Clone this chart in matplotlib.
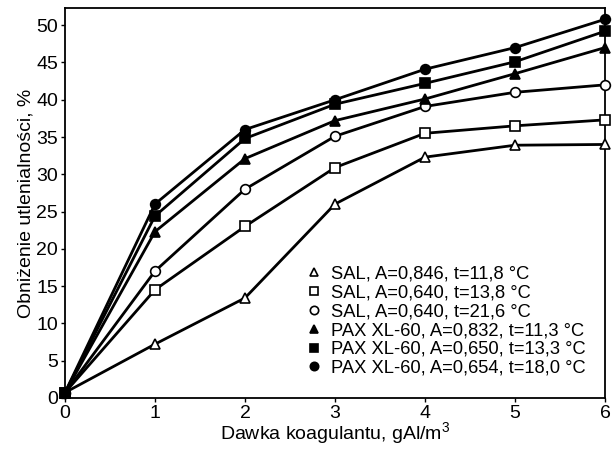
import matplotlib
matplotlib.use("Agg")
import matplotlib.pyplot as plt

plt.rcParams["font.family"] = ["Liberation Sans", "DejaVu Sans"]
plt.rcParams["mathtext.fontset"] = "custom"
plt.rcParams["mathtext.rm"] = "Liberation Sans"

# Dose of coagulant, gAl/m3
dose = [0, 1, 2, 3, 4, 5, 6]

# Reduction of oxidisability, %
sal_846 = [0.7, 7.2, 13.4, 26.0, 32.3, 33.9, 34.0]
sal_640_138 = [0.7, 14.5, 23.0, 30.9, 35.5, 36.5, 37.3]
sal_640_216 = [0.7, 17.0, 28.0, 35.1, 39.1, 41.0, 42.0]
pax_832 = [0.7, 22.3, 32.1, 37.2, 40.1, 43.5, 47.0]
pax_650 = [0.7, 24.4, 34.8, 39.4, 42.2, 45.1, 49.2]
pax_654 = [0.7, 26.0, 36.0, 40.0, 44.1, 47.0, 50.8]

labels = [
    "SAL, A=0,846, t=11,8 °C",
    "SAL, A=0,640, t=13,8 °C",
    "SAL, A=0,640, t=21,6 °C",
    "PAX XL-60, A=0,832, t=11,3 °C",
    "PAX XL-60, A=0,650, t=13,3 °C",
    "PAX XL-60, A=0,654, t=18,0 °C",
]

series = [sal_846, sal_640_138, sal_640_216, pax_832, pax_650, pax_654]
markers = ["^", "s", "o", "^", "s", "o"]
faces = ["white", "white", "white", "black", "black", "black"]

fig = plt.figure(figsize=(6.13, 4.5), dpi=100)
ax = fig.add_axes([0.106, 0.116, 0.881, 0.866])

for vals, m, fc, lab in zip(series, markers, faces, labels):
    ax.plot(dose, vals, color="black", lw=2.0, marker=m, ms=7,
            markerfacecolor=fc, markeredgecolor="black", markeredgewidth=1.2,
            label=lab, clip_on=False, zorder=3)

ax.set_xlim(0, 6)
ax.set_ylim(0, 52.3)
ax.set_xticks(range(0, 7))
ax.set_yticks(range(0, 51, 5))
ax.tick_params(labelsize=14, length=3, width=1, direction="out", pad=2)
for s in ax.spines.values():
    s.set_linewidth(1.3)

ax.set_xlabel("Dawka koagulantu, gAl/m$^3$", fontsize=14, labelpad=-1)
ax.set_ylabel("Obniżenie utlenialności, %", fontsize=14, labelpad=1)

leg = ax.legend(loc="lower right", frameon=False, fontsize=13.2,
                handlelength=0.8, handletextpad=0.5, labelspacing=0.1,
                borderaxespad=0.0, bbox_to_anchor=(0.977, 0.035))
for h in leg.legend_handles:
    h.set_linestyle("none")
    h.set_markersize(6)

fig.savefig("out.png", dpi=100)
